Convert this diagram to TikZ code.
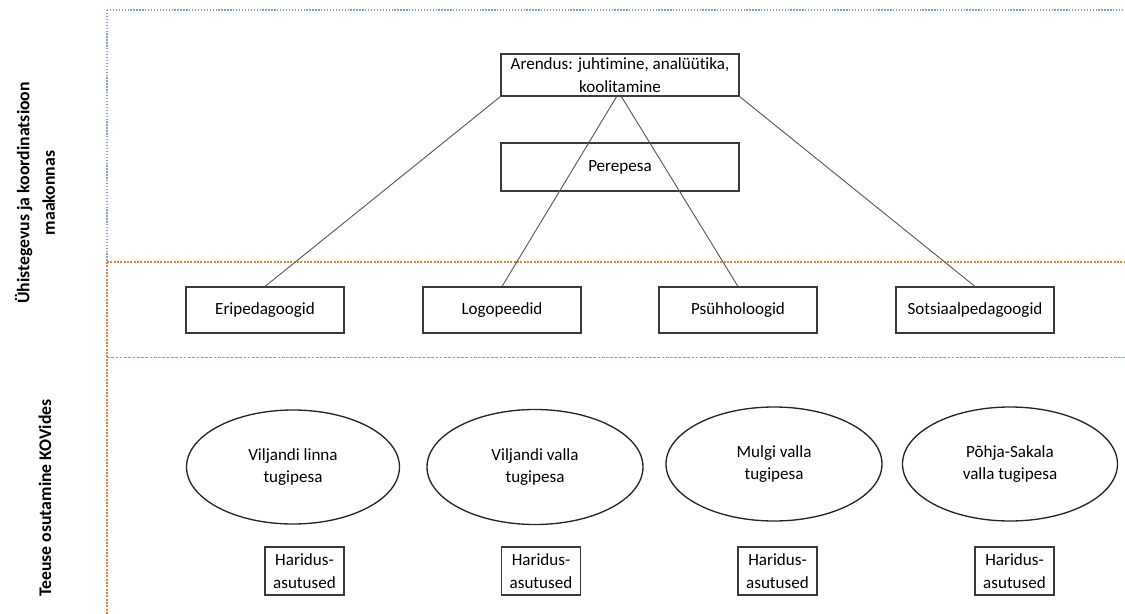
\documentclass[tikz,border=0pt]{standalone}
\usepackage{fontspec}
\setmainfont[Ligatures=NoCommon]{Carlito}
\usetikzlibrary{shapes.geometric}
\definecolor{lblue}{HTML}{7F9FDB}
\definecolor{lorange}{HTML}{F08030}
\definecolor{boxc}{HTML}{3A3A3A}
\definecolor{linec}{HTML}{5A5A5A}
\tikzset{
  x=0.75pt, y=-0.75pt,
  txt/.style={font=\fontsize{12.8}{17}\selectfont, align=center, inner sep=0pt},
  rbox/.style={txt, draw=boxc, line width=0.8pt},
  ebox/.style={txt, draw=black!85, line width=1pt, ellipse, inner sep=0pt},
  conn/.style={draw=linec, line width=0.7pt},
  bluedot/.style={draw=lblue, line width=0.8pt, dash pattern=on 1pt off 1.2pt},
  orangedot/.style={draw=lorange, line width=0.8pt, dash pattern=on 1.5pt off 1pt},
  bluedash/.style={draw=lblue, line width=0.7pt, dash pattern=on 2pt off 1.2pt},
  sidelabel/.style={font=\fontsize{13.3}{19}\selectfont\bfseries, align=center, rotate=90, inner sep=0pt}
}
\begin{document}
\begin{tikzpicture}
\useasboundingbox (0,0) rectangle (1125,614);
% separators
\coordinate (tl) at (107,10);
\coordinate (tr) at (1125,10);
\coordinate (ml) at (107,262);
\coordinate (mr) at (1125,262);
\coordinate (bl) at (107,357);
\coordinate (br) at (1125,357);
\coordinate (vb) at (107,614);
\draw[bluedot] (tl) -- (tr);
\draw[bluedot] (tl) -- (ml);
\draw[orangedot] (ml) -- (vb);
\draw[orangedot] (ml) -- (mr);
\draw[bluedash] (bl) -- (br);
% side labels
\node[sidelabel] (lab1) at (35,193) {Ühistegevus ja koordinatsioon\\maakonnas};
\node[sidelabel] (lab2) at (45,498) {Teeuse osutamine KOVides};
% top boxes
\node[rbox, minimum width=238*0.75pt, minimum height=42*0.75pt] (aren) at (620,75) {Arendus: juhtimine, analüütika,\\koolitamine};
\node[rbox, minimum width=238*0.75pt, minimum height=48*0.75pt] (pere) at (620,167) {Perepesa};
% specialists
\foreach \n/\x/\t in {eri/265/Eripedagoogid, logo/502/Logopeedid, psyh/738/Psühholoogid, sots/975/Sotsiaalpedagoogid}{
  \node[rbox, minimum width=158*0.75pt, minimum height=46*0.75pt] (\n) at (\x,310) {\t};
}
% connectors
\draw[conn] (aren.south west) -- (eri.north);
\draw[conn] ([xshift=-2.5pt]aren.south) -- (logo.north);
\draw[conn] ([xshift=1pt]aren.south) -- (psyh.north);
\draw[conn] (aren.south east) -- (sots.north);
% ellipses
\node[ebox, minimum width=213*0.75pt, minimum height=114*0.75pt] (e1) at (293,467) {Viljandi linna\\tugipesa};
\node[ebox, minimum width=216*0.75pt, minimum height=115*0.75pt] (e2) at (535,467) {Viljandi valla\\tugipesa};
\node[ebox, minimum width=216*0.75pt, minimum height=114*0.75pt] (e3) at (774,464) {Mulgi valla\\tugipesa};
\node[ebox, minimum width=215*0.75pt, minimum height=114*0.75pt] (e4) at (1010,464) {Põhja-Sakala\\valla tugipesa};
% haridus
\foreach \n/\x in {h1/304.5, h2/541, h3/777.5, h4/1014.5}{
  \node[rbox, minimum width=79*0.75pt, minimum height=48*0.75pt] (\n) at (\x,571) {Haridus-\\asutused};
}
\end{tikzpicture}
\end{document}
